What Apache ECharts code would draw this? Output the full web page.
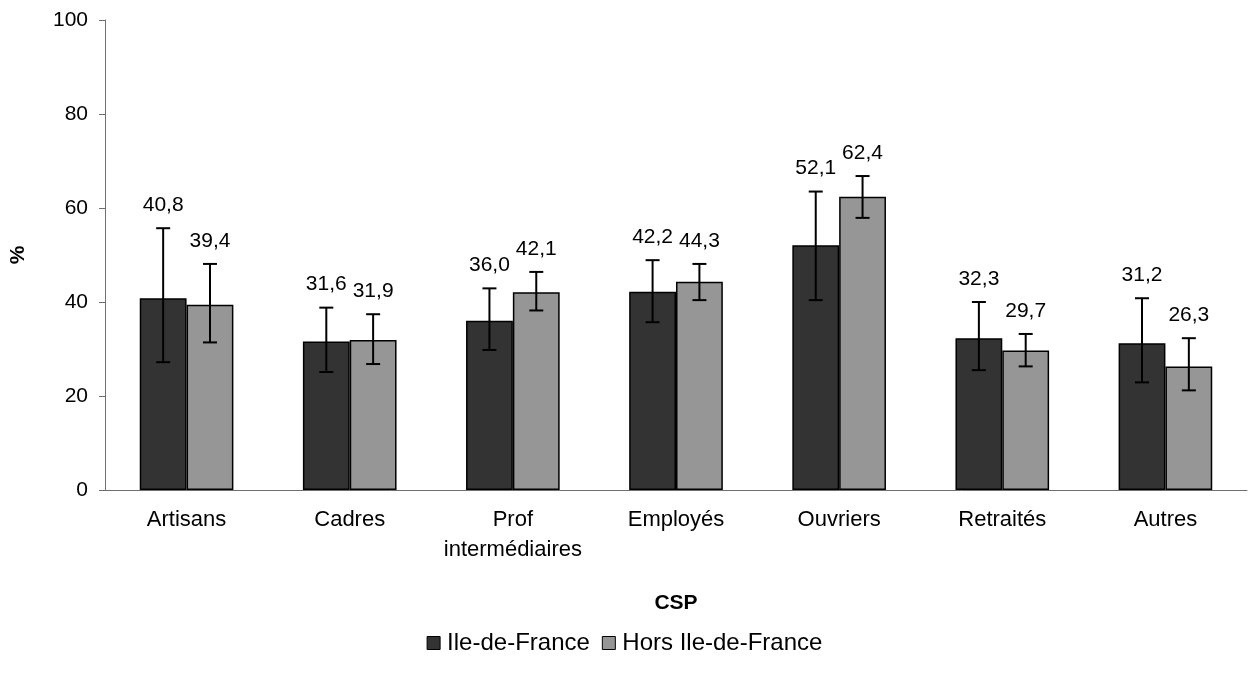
<!DOCTYPE html>
<html>
<head>
<meta charset="utf-8">
<script src="https://cdn.jsdelivr.net/npm/echarts@6/dist/echarts.min.js"></script>
<style>
  html, body { margin: 0; padding: 0; background: #fff; }
  #chart { width: 1249px; height: 678px; }
</style>
</head>
<body>
<div id="chart"></div>
<script>
var categories = ['Artisans', 'Cadres', 'Prof\nintermédiaires', 'Employés', 'Ouvriers', 'Retraités', 'Autres'];
var idfValues = [40.8, 31.6, 36.0, 42.2, 52.1, 32.3, 31.2];
var horsValues = [39.4, 31.9, 42.1, 44.3, 62.4, 29.7, 26.3];
// intervalles de confiance
var idfLow = [27.2, 25.1, 29.8, 35.7, 40.4, 25.5, 22.9];
var idfHigh = [55.7, 38.8, 42.9, 48.9, 63.5, 40.0, 40.8];
var horsLow = [31.4, 26.8, 38.2, 40.4, 57.9, 26.3, 21.2];
var horsHigh = [48.1, 37.4, 46.4, 48.1, 66.8, 33.2, 32.3];
var yTicks = [0, 20, 40, 60, 80, 100];

var FONT = 'Liberation Sans';
var BAR_RATIO = 0.287;

function fmt(v) {
    return v.toFixed(1).replace('.', ',');
}

function errorData(low, high, vals) {
    return categories.map(function (c, i) {
        return [i, low[i], high[i], vals[i]];
    });
}

function errorRenderer(side) {
    return function (params, api) {
        var idx = api.value(0);
        var band = api.size([1, 0])[0];
        var dx = side * band * BAR_RATIO / 2;
        var lo = api.coord([idx, api.value(1)]);
        var hi = api.coord([idx, api.value(2)]);
        var x = lo[0] + dx;
        var cap = 7;
        var st = { stroke: '#000', lineWidth: 2 };
        return {
            type: 'group',
            children: [
                { type: 'line', shape: { x1: x, y1: lo[1], x2: x, y2: hi[1] }, style: st },
                { type: 'line', shape: { x1: x - cap, y1: lo[1], x2: x + cap, y2: lo[1] }, style: st },
                { type: 'line', shape: { x1: x - cap, y1: hi[1], x2: x + cap, y2: hi[1] }, style: st },
                {
                    type: 'text',
                    style: {
                        x: x, y: hi[1] - 23,
                        text: fmt(api.value(3)),
                        align: 'center', verticalAlign: 'middle',
                        font: '21px "' + FONT + '"', fill: '#000'
                    }
                }
            ]
        };
    };
}

var myChart = echarts.init(document.getElementById('chart'));
myChart.setOption({
    animation: false,
    textStyle: { fontFamily: FONT, color: '#000' },
    grid: { left: 99, right: 2, top: 20, bottom: 188 },
    legend: {
        data: ['Ile-de-France', 'Hors Ile-de-France'],
        bottom: 18,
        left: 'center',
        icon: 'rect',
        itemWidth: 13,
        itemHeight: 13,
        itemGap: 12,
        itemStyle: { borderColor: '#000', borderWidth: 1 },
        textStyle: { fontSize: 24, fontFamily: FONT, color: '#000', padding: [0, 0, 0, 2] }
    },
    xAxis: {
        type: 'category',
        data: categories,
        name: 'CSP',
        nameLocation: 'middle',
        nameGap: 103,
        nameTextStyle: { fontSize: 21, fontWeight: 'bold', fontFamily: FONT, color: '#000' },
        axisLine: { lineStyle: { color: '#707070', width: 1 } },
        axisTick: { length: 6, lineStyle: { color: '#707070' } },
        axisLabel: { interval: 0, fontSize: 22, fontFamily: FONT, color: '#000', margin: 15, lineHeight: 30 },
        splitLine: { show: false }
    },
    yAxis: {
        type: 'value',
        min: 0,
        max: 100,
        interval: 20,
        name: '%',
        nameLocation: 'middle',
        nameGap: 76,
        nameRotate: 90,
        nameTextStyle: { fontSize: 21, fontWeight: 'bold', fontFamily: FONT, color: '#000' },
        axisLine: { show: true, lineStyle: { color: '#707070', width: 1 } },
        axisTick: { show: true, length: 6, lineStyle: { color: '#707070' } },
        axisLabel: {
            fontSize: 21, fontFamily: FONT, color: '#000', margin: 17,
            formatter: function (v) { return yTicks.indexOf(v) >= 0 ? String(v) : ''; }
        },
        splitLine: { show: false }
    },
    series: [
        {
            name: 'Ile-de-France',
            type: 'bar',
            data: idfValues,
            barGap: '0%',
            barCategoryGap: '42.6%',
            itemStyle: { color: '#333333', borderColor: '#000', borderWidth: 1.5 }
        },
        {
            name: 'Hors Ile-de-France',
            type: 'bar',
            data: horsValues,
            barGap: '0%',
            barCategoryGap: '42.6%',
            itemStyle: { color: '#969696', borderColor: '#000', borderWidth: 1.5 }
        },
        {
            type: 'custom',
            renderItem: errorRenderer(-1),
            encode: { x: 0, y: [1, 2] },
            data: errorData(idfLow, idfHigh, idfValues),
            z: 10,
            silent: true
        },
        {
            type: 'custom',
            renderItem: errorRenderer(1),
            encode: { x: 0, y: [1, 2] },
            data: errorData(horsLow, horsHigh, horsValues),
            z: 10,
            silent: true
        }
    ]
});
</script>
</body>
</html>
